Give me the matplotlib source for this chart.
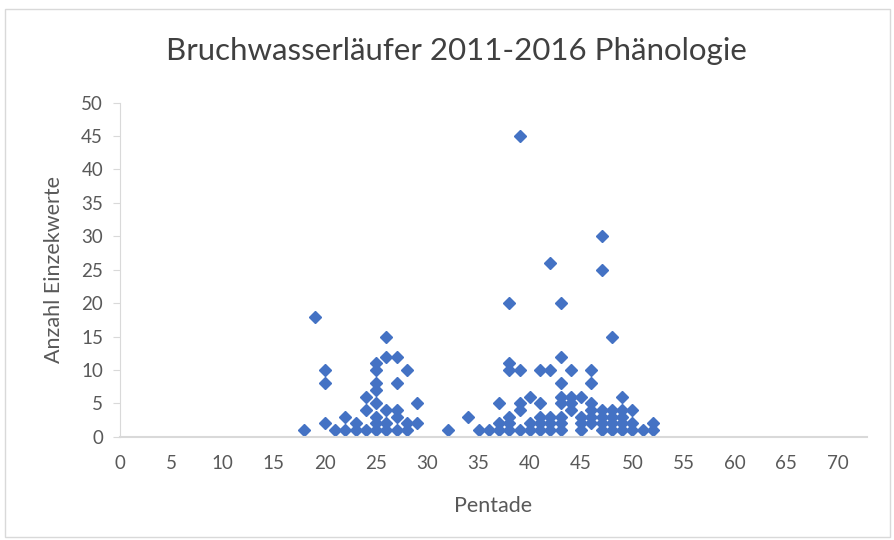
import matplotlib
matplotlib.use("Agg")
import matplotlib.pyplot as plt
from matplotlib.patches import Rectangle

# Pentade -> single counts
pentaden = [18, 19, 20, 20, 20, 21, 22, 22, 23, 23, 24, 24, 24,
            25, 25, 25, 25, 25, 25, 25, 25,
            26, 26, 26, 26, 26, 27, 27, 27, 27, 27,
            28, 28, 28, 29, 29, 32, 34, 35, 36,
            37, 37, 37, 38, 38, 38, 38, 38, 38,
            39, 39, 39, 39, 39, 40, 40, 40,
            41, 41, 41, 41, 41, 42, 42, 42, 42, 42,
            43, 43, 43, 43, 43, 43, 43, 43,
            44, 44, 44, 44, 45, 45, 45, 45,
            46, 46, 46, 46, 46, 46, 47, 47, 47, 47, 47, 47,
            48, 48, 48, 48, 48, 49, 49, 49, 49, 49,
            50, 50, 50, 51, 52, 52]
anzahl = [1, 18, 10, 8, 2, 1, 3, 1, 2, 1, 6, 4, 1,
          11, 10, 8, 7, 5, 3, 2, 1,
          15, 12, 4, 2, 1, 12, 8, 4, 3, 1,
          10, 2, 1, 5, 2, 1, 3, 1, 1,
          5, 2, 1, 20, 11, 10, 3, 2, 1,
          45, 10, 5, 4, 1, 6, 2, 1,
          10, 5, 3, 2, 1, 26, 10, 3, 2, 1,
          20, 12, 8, 6, 5, 3, 2, 1,
          10, 6, 5, 4, 6, 3, 2, 1,
          10, 8, 5, 4, 3, 2, 30, 25, 4, 3, 2, 1,
          15, 4, 3, 2, 1, 6, 4, 3, 2, 1,
          4, 2, 1, 1, 2, 1]

x_ticks = list(range(0, 71, 5))
y_ticks = list(range(0, 51, 5))

plt.rcParams['font.family'] = ['Lato', 'DejaVu Sans']

fig = plt.figure(figsize=(8.94, 5.4), dpi=100)
ax = fig.add_axes([0.134, 0.191, 0.836, 0.619])

ax.plot(pentaden, anzahl, linestyle='none', marker='D', markersize=6.5,
        color='#4472C4', markeredgecolor='#4472C4')

ax.set_xlim(0, 72.9)
ax.set_ylim(0, 50)
ax.set_xticks(x_ticks)
ax.set_yticks(y_ticks)

for s in ['top', 'right']:
    ax.spines[s].set_visible(False)
ax.spines['bottom'].set_color('#d9d9d9')
ax.spines['bottom'].set_linewidth(1.5)
ax.spines['left'].set_color('#d9d9d9')
ax.spines['left'].set_linewidth(0.8)
ax.tick_params(axis='x', length=0, pad=13, labelsize=13.5, labelcolor='#595959')
ax.tick_params(axis='y', length=5, width=0.8, color='#d9d9d9', pad=7,
               labelsize=13.5, labelcolor='#595959')

fig.text(0.51, 0.905, 'Bruchwasserläufer 2011-2016 Phänologie', fontsize=22.5,
         color='#404040', ha='center', va='center')
ax.set_xlabel('Pentade', fontsize=15.5, color='#595959', labelpad=17)
ax.set_ylabel('Anzahl Einzekwerte', fontsize=15.5, color='#595959', labelpad=12)

# chart frame
fig.patches.append(Rectangle((0.006, 0.005), 0.99, 0.978, transform=fig.transFigure,
                             fill=False, edgecolor='#d9d9d9', linewidth=1))

fig.savefig('out.png', dpi=100)
